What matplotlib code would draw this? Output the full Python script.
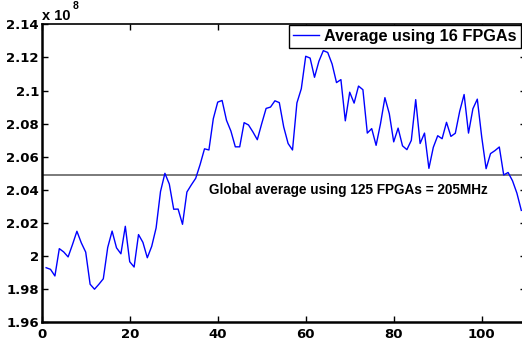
import matplotlib
matplotlib.use("Agg")
import matplotlib.pyplot as plt
from matplotlib.ticker import FuncFormatter

# Data (frequency in units of 1e8 Hz)
run_index = list(range(1, 110))
avg_16 = [
    1.993, 1.992, 1.988, 2.0045, 2.0025, 1.9995, 2.007, 2.015, 2.008, 2.0024,
    1.983, 1.980, 1.983, 1.9863, 2.0052, 2.0151, 2.005, 2.0014, 2.018, 1.9966,
    1.9934, 2.013, 2.0083, 1.999, 2.0059, 2.017, 2.039, 2.050, 2.0435, 2.0283,
    2.0284, 2.0192, 2.0387, 2.043, 2.047, 2.0553, 2.0648, 2.0641, 2.083, 2.093,
    2.094, 2.082, 2.0755, 2.066, 2.066, 2.0806, 2.0792, 2.075, 2.0703, 2.080,
    2.0892, 2.090, 2.0938, 2.0927, 2.078, 2.068, 2.0641, 2.0925, 2.1011, 2.1207,
    2.1196, 2.108, 2.1177, 2.1241, 2.123, 2.116, 2.1048, 2.1066, 2.0817, 2.099,
    2.0924, 2.1027, 2.1005, 2.0743, 2.077, 2.0669, 2.080, 2.0957, 2.086, 2.069,
    2.0773, 2.0666, 2.0643, 2.0699, 2.0945, 2.068, 2.0743, 2.053, 2.0657, 2.0727,
    2.0709, 2.0808, 2.0723, 2.0742, 2.0875, 2.0976, 2.0743, 2.089, 2.0948, 2.072,
    2.0528, 2.0619, 2.0637, 2.0659, 2.049, 2.0505, 2.0455, 2.038, 2.0276,
]
global_avg = 2.049
series_label = "Average using 16 FPGAs"
annotation = "Global average using 125 FPGAs = 205MHz"
xticks = [0, 20, 40, 60, 80, 100]
yticks = [1.96, 1.98, 2.0, 2.02, 2.04, 2.06, 2.08, 2.1, 2.12, 2.14]

fig = plt.figure(figsize=(5.22, 3.40), dpi=100)
ax = fig.add_axes([0.0799, 0.052, 0.9272, 0.8765])

ax.axhline(global_avg, color="#707070", lw=1.3, zorder=1)
ax.plot(run_index, avg_16, color="#0000ff", lw=1.0, label=series_label, zorder=2)

ax.set_xlim(0, 110)
ax.set_ylim(1.96, 2.14)
ax.set_xticks(xticks)
ax.set_yticks(yticks)
ax.yaxis.set_major_formatter(FuncFormatter(lambda v, p: "%g" % round(v, 4)))

for lab in ax.get_xticklabels() + ax.get_yticklabels():
    lab.set_fontweight("bold")
ax.tick_params(axis="both", direction="in", length=4, width=1.0,
               top=True, right=True, labelsize=9.5)
ax.tick_params(axis="y", pad=2)
ax.tick_params(axis="x", pad=4)
for s in ax.spines.values():
    s.set_linewidth(1.2)
ax.spines["left"].set_linewidth(1.8)
ax.spines["bottom"].set_linewidth(1.8)

ax.text(209.3 / 522, 1 - 190 / 340, annotation, transform=fig.transFigure,
        fontsize=9.8, fontweight="bold", va="center", ha="left",
        family="Liberation Sans")

fig.text(42.5 / 522, 1 - 16 / 340, "x 10", fontsize=10.5, fontweight="bold",
         va="center", ha="left", family="Liberation Sans")
fig.text(73 / 522, 1 - 6 / 340, "8", fontsize=7.5, fontweight="bold",
         va="center", ha="left", family="Liberation Sans")

leg = ax.legend(loc="upper right", bbox_to_anchor=(0.990, 0.998),
                fancybox=False, framealpha=1, edgecolor="black",
                prop={"weight": "bold", "size": 11.7, "family": "Liberation Sans"},
                handlelength=1.6, handletextpad=0.3, borderpad=0.25,
                borderaxespad=0)
leg.get_frame().set_linewidth(1.0)

fig.savefig("out.png", dpi=100)
